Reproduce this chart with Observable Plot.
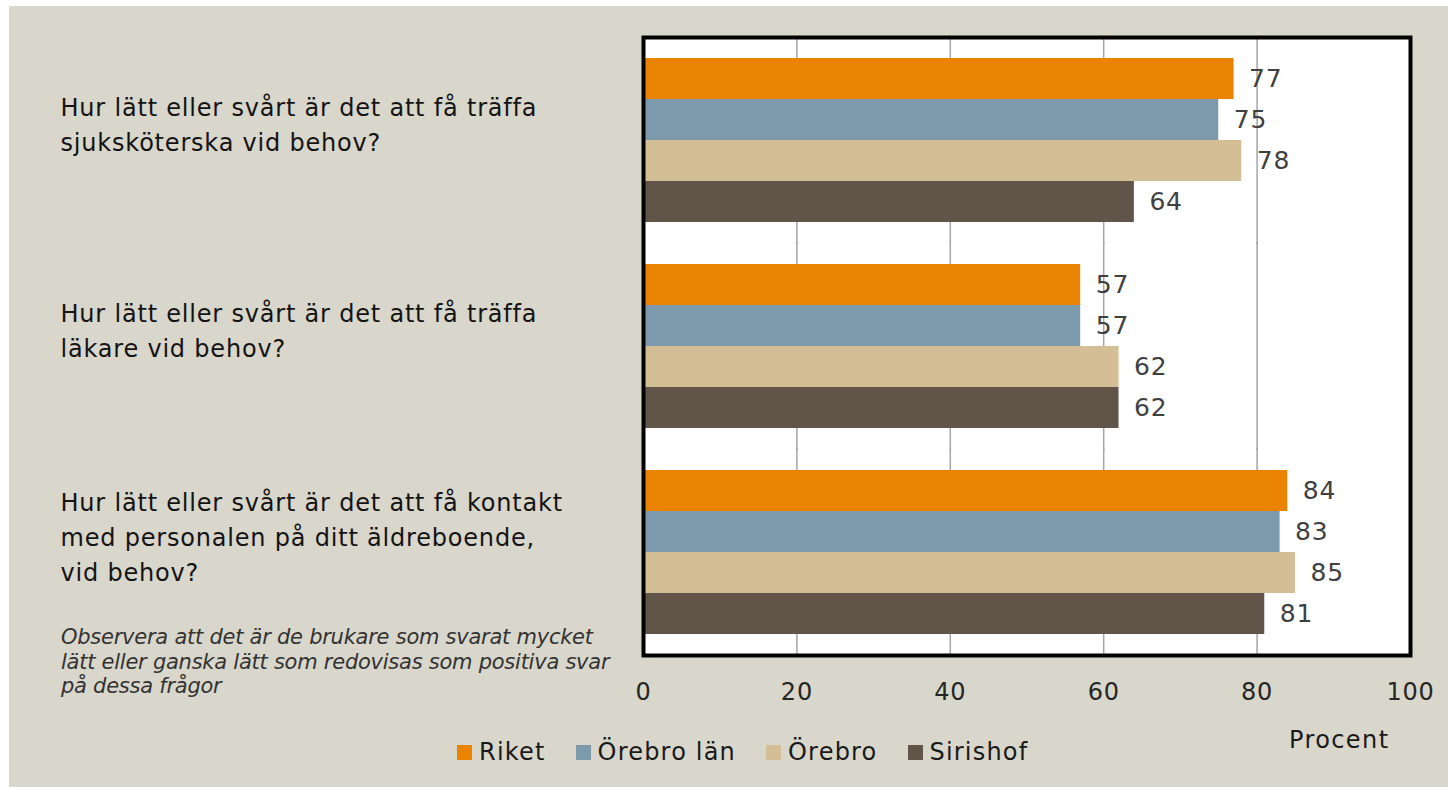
<!DOCTYPE html>
<html>
<head>
<meta charset="utf-8">
<script src="https://cdn.jsdelivr.net/npm/d3@7"></script>
<script src="https://cdn.jsdelivr.net/npm/@observablehq/plot@0.6"></script>
<style>
  html, body { margin: 0; padding: 0; background: #ffffff; }
  body { width: 1448px; height: 787px; position: relative; overflow: hidden; font-family: "DejaVu Sans", sans-serif; }
  #panel { position: absolute; left: 9px; top: 6px; width: 1439px; height: 781px; background: #D9D6CB; }
  #chart { position: absolute; left: 0; top: 0; }
  #chart svg text { letter-spacing: 0.8px; }
  #note { position: absolute; left: 52px; top: 619px; font-size: 21px; font-style: italic; line-height: 24.5px; color: #333; letter-spacing: -0.25px; white-space: nowrap; }
  #legend { position: absolute; left: 448px; top: 733px; height: 26px; display: flex; align-items: center; font-size: 24px; color: #1a1a1a; letter-spacing: 1.2px; white-space: nowrap; }
  #legend .item { display: flex; align-items: center; margin-right: 30px; }
  #legend .sw { width: 15px; height: 15px; margin-right: 7px; }
  #unit { position: absolute; left: 1280px; top: 720px; font-size: 24px; color: #1a1a1a; letter-spacing: 1.4px; line-height: 28px; }
</style>
</head>
<body>
<div id="panel">
  <div id="chart"></div>
  <div id="note"></div>
  <div id="legend"></div>
  <div id="unit"></div>
</div>
<script>
const groups = [
  "Hur lätt eller svårt är det att få träffa\nsjuksköterska vid behov?",
  "Hur lätt eller svårt är det att få träffa\nläkare vid behov?",
  "Hur lätt eller svårt är det att få kontakt\nmed personalen på ditt äldreboende,\nvid behov?"
];
const series = ["Riket", "Örebro län", "Örebro", "Sirishof"];
const riket = [77, 57, 84];
const orebroLan = [75, 57, 83];
const orebro = [78, 62, 85];
const sirishof = [64, 62, 81];
const colors = ["#E98300", "#7C9AAC", "#D4BE95", "#61554A"];
const xTicks = [0, 20, 40, 60, 80, 100];
const unitLabel = "Procent";
const noteLines = [
  "Observera att det är de brukare som svarat mycket",
  "lätt eller ganska lätt som redovisas som positiva svar",
  "på dessa frågor"
];

const seriesValues = [riket, orebroLan, orebro, sirishof];
const data = [];
groups.forEach((g, gi) => {
  series.forEach((s, si) => {
    data.push({group: g, series: s, value: seriesValues[si][gi]});
  });
});
const lastGroup = groups[groups.length - 1];

const chart = Plot.plot({
  width: 1439,
  height: 715,
  marginLeft: 634,
  marginRight: 38,
  marginTop: 50,
  marginBottom: 86,
  style: {background: "transparent", fontFamily: "DejaVu Sans, sans-serif", overflow: "visible"},
  x: {domain: [0, 100], axis: null},
  y: {domain: series, padding: 0, axis: null},
  fy: {domain: groups, paddingInner: 0.196, paddingOuter: 0, axis: null},
  color: {domain: series, range: colors},
  marks: [
    Plot.frame({fill: "white", stroke: "none", insetTop: -20, insetBottom: -20, facet: "super"}),
    Plot.ruleX(xTicks.filter(d => d > 0 && d < 100), {x: d => d, stroke: "#a5a5a5", strokeWidth: 1.5, insetTop: -21, insetBottom: -21}),
    Plot.barX(data, {x: "value", y: "series", fy: "group", fill: "series"}),
    Plot.text(data, {x: "value", y: "series", fy: "group", text: d => String(d.value), textAnchor: "start", dx: 15, fontSize: 25, fill: "#404040"}),
    Plot.text(groups, {fy: d => d, text: d => d, frameAnchor: "left", textAnchor: "start", dx: -583, dy: -18, fontSize: 24, lineHeight: 1.46, fill: "#141414"}),
    Plot.frame({stroke: "black", strokeWidth: 4, insetTop: -20, insetBottom: -20, facet: "super"}),
    Plot.text(xTicks, {x: d => d, fy: () => lastGroup, text: d => String(d), frameAnchor: "bottom", lineAnchor: "top", dy: 47, fontSize: 24, fill: "#262626"})
  ]
});
document.getElementById("chart").appendChild(chart);

document.getElementById("note").innerHTML = noteLines.join("<br>");
document.getElementById("unit").textContent = unitLabel;
const legend = document.getElementById("legend");
series.forEach((s, i) => {
  const item = document.createElement("div");
  item.className = "item";
  const sw = document.createElement("span");
  sw.className = "sw";
  sw.style.background = colors[i];
  const lab = document.createElement("span");
  lab.textContent = s;
  item.appendChild(sw);
  item.appendChild(lab);
  legend.appendChild(item);
});
</script>
</body>
</html>
